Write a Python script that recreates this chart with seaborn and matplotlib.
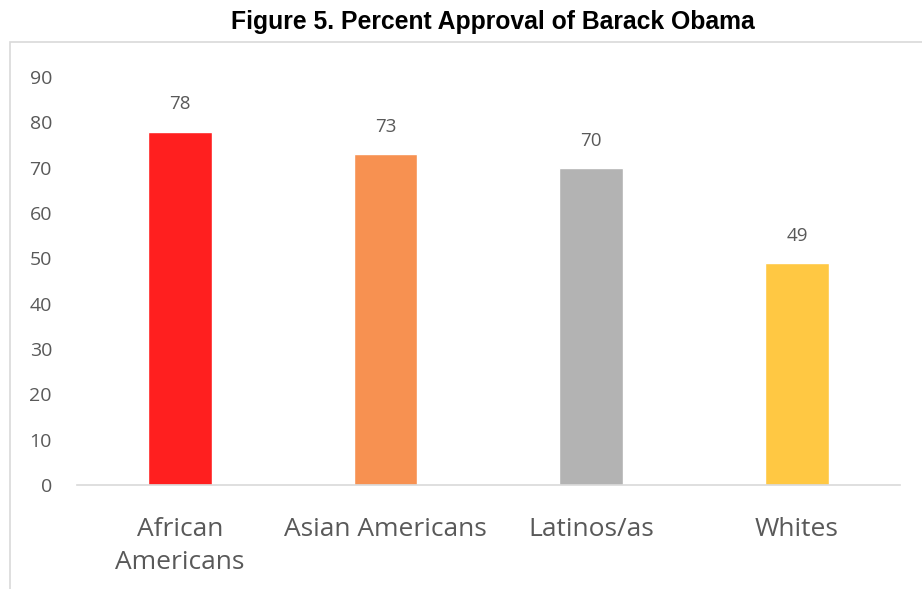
import matplotlib
matplotlib.use("Agg")
import matplotlib.pyplot as plt
from matplotlib.patches import Rectangle
import seaborn as sns
import pandas as pd

groups = ["African\nAmericans", "Asian Americans", "Latinos/as", "Whites"]
approval = [78, 73, 70, 49]
bar_colors = ["#FF1F1F", "#F79151", "#B3B3B3", "#FFC843"]
y_ticks = [0, 10, 20, 30, 40, 50, 60, 70, 80, 90]

sns.set_theme(style="white")
plt.rcParams["font.family"] = ["Open Sans", "DejaVu Sans"]

df = pd.DataFrame({"group": groups, "approval": approval})

fig = plt.figure(figsize=(9.22, 5.89), dpi=100)
ax = fig.add_axes([0.0835, 0.1766, 0.8925, 0.6924])

sns.barplot(data=df, x="group", y="approval", hue="group", palette=bar_colors,
            legend=False, width=0.31, saturation=1, ax=ax)

text_gray = "#595959"
for i, v in enumerate(approval):
    ax.text(i, v + 4.0, f"{v}", ha="center", va="bottom", fontsize=13.5, color=text_gray)

ax.set_xlim(-0.5, 3.5)
ax.set_ylim(0, 90)
ax.set_yticks(y_ticks)
ax.set_xlabel("")
ax.set_ylabel("")
for s in ["top", "right", "left"]:
    ax.spines[s].set_visible(False)
ax.spines["bottom"].set_color("#D9D9D9")
ax.spines["bottom"].set_linewidth(1.2)
ax.tick_params(axis="y", labelsize=14, labelcolor=text_gray, length=0, pad=18)
ax.tick_params(axis="x", labelsize=19, labelcolor=text_gray, length=0, pad=23)
for lbl in ax.get_xticklabels():
    lbl.set_linespacing(1.45)

# chart frame
fig.patches.append(Rectangle((10 / 922, -0.1), 1.2, 0.1 + (1 - 42 / 589),
                             transform=fig.transFigure, fill=False,
                             edgecolor="#D9D9D9", linewidth=1.2))

fig.text(0.535, 0.9626, "Figure 5. Percent Approval of Barack Obama",
         ha="center", va="center", fontsize=17.8, fontweight="bold",
         family=["Liberation Sans", "DejaVu Sans"], color="black")

fig.savefig("out.png", dpi=100)
